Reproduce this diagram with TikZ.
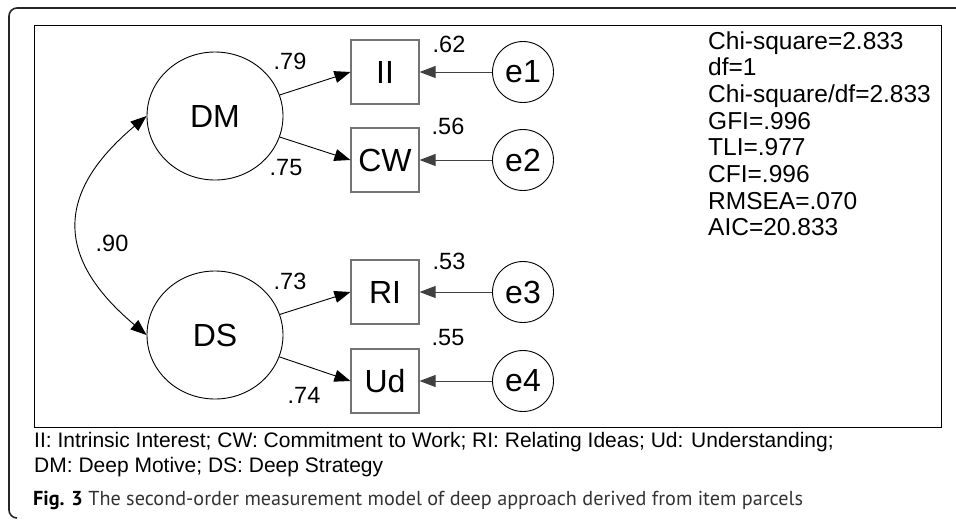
\documentclass[tikz,border=0pt]{standalone}
\usepackage{fontspec}
\setmainfont{Liberation Sans}
\newfontfamily\capfont{PT Sans}
\usetikzlibrary{arrows.meta}
\usetikzlibrary{shapes.geometric}

\begin{document}
\begin{tikzpicture}[x=1pt,y=-1pt,
 >={Triangle[length=16pt,width=12pt]},
 latent/.style={draw, ellipse, line width=0.9pt, minimum width=136pt, minimum height=128pt, inner sep=0pt, font=\fontsize{32}{38}\selectfont},
 obs/.style={draw=black!55, line width=1.2pt, minimum width=68pt, minimum height=64pt, inner sep=0pt, font=\fontsize{32}{38}\selectfont},
 err/.style={draw, circle, line width=0.9pt, minimum size=61pt, inner sep=0pt, font=\fontsize{32}{38}\selectfont},
 load/.style={draw, line width=0.9pt, ->},
 coef/.style={inner sep=0pt, font=\fontsize{23.5}{28}\selectfont},
 stat/.style={inner sep=0pt, anchor=base west, font=\fontsize{24.5}{28}\selectfont},
 legend/.style={inner sep=0pt, anchor=base west, font=\fontsize{21}{25}\selectfont}]
\useasboundingbox (0,0) rectangle (956,520);
\draw[black!85, line width=1.6pt, rounded corners=8pt] (956,8) -- (9,8) -- (9,518) -- (17,518);
\draw[line width=1pt] (34,25) rectangle (941,427);
\node[latent] (DM) at (215,116) {DM};
\node[latent] (DS) at (215,335) {DS};
\node[obs] (II) at (385,72) {II};
\node[obs] (CW) at (385,160) {CW};
\node[obs] (RI) at (385,292) {RI};
\node[obs] (Ud) at (385,381) {Ud};
\foreach \e/\b/\y in {1/II/72, 2/CW/160, 3/RI/292, 4/Ud/381} {
 \node[err] (e\e) at (523,\y) {e\e};
 \draw[load, black!75] (e\e) -- (\b);
}
\draw[load] (DM) -- (II.west);
\draw[load] (DM) -- (CW.west);
\draw[load] (DS) -- (RI.west);
\draw[load] (DS) -- (Ud.west);
\draw[load, <->] (DM.west) .. controls (55,193) and (55,258) .. (DS.west);
\foreach \v/\x/\y [count=\i] in {.79/290/61, .75/286/168, .62/449/44, .56/448/126, .90/112/243, .73/290/281, .74/304/395, .53/449/261, .55/448/338}
 \node[coef] (c\i) at (\x,\y) {\v};
\foreach \s [count=\i] in {Chi-square=2.833, df=1, Chi-square/df=2.833, GFI=.996, TLI=.977, CFI=.996, RMSEA=.070, AIC=20.833}
 \node[stat] (s\i) at (708,22.3+26.7*\i) {\s};
\node[legend] (leg1) at (34,447) {II: Intrinsic Interest; CW: Commitment to Work; RI: Relating Ideas; Ud: Understanding;};
\node[legend] (leg2) at (34,472) {DM: Deep Motive; DS: Deep Strategy};
\node[inner sep=0pt, anchor=base west, text=black!80, font=\capfont\fontsize{20.2}{24}\selectfont] (cap) at (33,505) {{\color{black}\bfseries Fig. 3} The second-order measurement model of deep approach derived from item parcels};
\end{tikzpicture}
\end{document}
